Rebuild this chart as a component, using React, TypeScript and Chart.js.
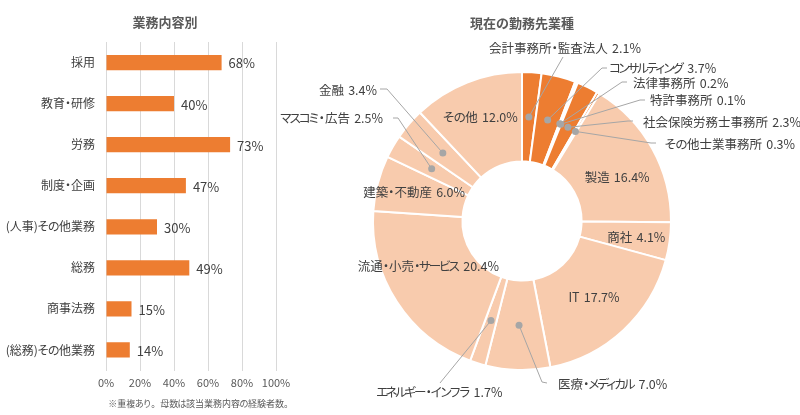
import React, { useEffect, useRef } from "react";
import { Chart, registerables } from "chart.js";

Chart.register(...registerables);

// ---------- Data: left bar chart ----------
const barTitle = "業務内容別";
const barNote = "※重複あり。母数は該当業務内容の経験者数。";
const barCategories = [
  "採用",
  "教育・研修",
  "労務",
  "制度・企画",
  "(人事)その他業務",
  "総務",
  "商事法務",
  "(総務)その他業務",
];
const barValues = [68, 40, 73, 47, 30, 49, 15, 14];
const xTickMin = 0;
const xTickMax = 100;
const xTickStep = 20;

// ---------- Data: right doughnut ----------
const pieTitle = "現在の勤務先業種";
const pieCategories = [
  "会計事務所・監査法人",
  "コンサルティング",
  "法律事務所",
  "特許事務所",
  "社会保険労務士事務所",
  "その他士業事務所",
  "製造",
  "商社",
  "IT",
  "医療・メディカル",
  "エネルギー・インフラ",
  "流通・小売・サービス",
  "建築・不動産",
  "マスコミ・広告",
  "金融",
  "その他",
];
const pieValues = [2.1, 3.7, 0.2, 0.1, 2.3, 0.3, 16.4, 4.1, 17.7, 7.0, 1.7, 20.4, 6.0, 2.5, 3.4, 12.0];
const pieGroup = ["士業", "士業", "士業", "士業", "士業", "士業", "他", "他", "他", "他", "他", "他", "他", "他", "他", "他"];

// ---------- Styles / layout ----------
const FONT = "'Noto Sans CJK JP', 'Noto Sans', sans-serif";
const ORANGE = "#ED7D31";
const LIGHT = "#F8CBAD";
const TEXT = "#404040";
const SUB = "#595959";
const LEADER = "#A6A6A6";

// label placement for the doughnut, relative to the doughnut centre (pixels)
type Place =
  | { kind: "in"; dx: number; dy: number }
  | { kind: "out"; pts: [number, number][]; tx: number; ty: number; align: CanvasTextAlign };

const piePlaces: Place[] = [
  { kind: "out", pts: [[41, -164]], tx: 43, ty: -173, align: "center" },
  { kind: "out", pts: [[80, -153], [85, -153]], tx: 88, ty: -153, align: "left" },
  { kind: "out", pts: [[100, -139], [105, -139]], tx: 111, ty: -138, align: "left" },
  { kind: "out", pts: [[118, -121], [123, -121]], tx: 128, ty: -121, align: "left" },
  { kind: "out", pts: [[106, -100], [111, -100]], tx: 121, ty: -99, align: "left" },
  { kind: "out", pts: [[129, -78], [134, -78]], tx: 143, ty: -77, align: "left" },
  { kind: "in", dx: 4, dy: 7 },
  { kind: "in", dx: 11, dy: 2 },
  { kind: "in", dx: 1, dy: 0 },
  { kind: "out", pts: [[20, 161], [25, 162]], tx: 36, ty: 163, align: "left" },
  { kind: "out", pts: [[-82, 162]], tx: -82, ty: 171, align: "center" },
  { kind: "in", dx: -6, dy: -11 },
  { kind: "in", dx: -7, dy: -2 },
  { kind: "out", pts: [[-124, -103], [-129, -103]], tx: -139, ty: -103, align: "right" },
  { kind: "out", pts: [[-135, -132], [-142, -132]], tx: -145, ty: -131, align: "right" },
  { kind: "in", dx: -3, dy: -7 },
];

// proportional-ish Japanese text drawing (mimics the narrow kana of the original font)
const SMALL_KANA = "ァィゥェォッャュョヮヵヶぁぃぅぇぉっゃゅょゎ";
function advanceFactor(ch: string): number {
  if (ch === " ") return 1.5;
  if (ch === "・") return 0.5;
  if (SMALL_KANA.includes(ch)) return 0.6;
  if (ch === "ー") return 0.85;
  const c = ch.charCodeAt(0);
  if (c >= 0x30a0 && c <= 0x30ff) return 0.75;
  if (c >= 0x3040 && c <= 0x309f) return 0.88;
  return 1;
}
function drawJP(ctx: CanvasRenderingContext2D, text: string, x: number, y: number, align: CanvasTextAlign) {
  const chars = Array.from(text);
  const widths = chars.map((ch) => ctx.measureText(ch).width * advanceFactor(ch));
  const total = widths.reduce((a, b) => a + b, 0);
  let sx = align === "center" ? x - total / 2 : align === "right" ? x - total : x;
  ctx.textAlign = "center";
  chars.forEach((ch, i) => {
    ctx.fillText(ch, sx + widths[i] / 2, y);
    sx += widths[i];
  });
}

function BarChart() {
  const ref = useRef<HTMLCanvasElement | null>(null);
  useEffect(() => {
    if (!ref.current) return;
    const labelPlugin = {
      id: "barLabels",
      afterDatasetsDraw(chart: any) {
        const ctx = chart.ctx;
        const meta = chart.getDatasetMeta(0);
        const yScale = chart.scales.y;
        ctx.save();
        ctx.textBaseline = "middle";
        meta.data.forEach((bar: any, i: number) => {
          const p = bar.getProps(["x", "y"], true);
          ctx.font = `13px ${FONT}`;
          ctx.fillStyle = TEXT;
          ctx.textAlign = "left";
          ctx.fillText(`${barValues[i]}%`, p.x + 7, p.y + 1);
          ctx.font = `12px ${FONT}`;
          drawJP(ctx, barCategories[i], yScale.right - 11, p.y, "right");
        });
        // title
        ctx.font = `bold 13px ${FONT}`;
        ctx.fillStyle = SUB;
        ctx.textAlign = "center";
        ctx.fillText(barTitle, 165, 22);
        // note
        ctx.font = `9px ${FONT}`;
        ctx.fillStyle = SUB;
        drawJP(ctx, barNote, 293, 404, "right");
        ctx.restore();
      },
    };
    const chart = new Chart(ref.current, {
      type: "bar",
      data: {
        labels: barCategories,
        datasets: [
          {
            data: barValues,
            backgroundColor: ORANGE,
            barPercentage: 0.37,
            categoryPercentage: 1,
          },
        ],
      },
      options: {
        indexAxis: "y",
        responsive: false,
        animation: false,
        layout: { padding: { top: 42, right: 24, left: 0, bottom: 0 } },
        plugins: { legend: { display: false }, tooltip: { enabled: false }, title: { display: false } },
        scales: {
          x: {
            min: xTickMin,
            max: xTickMax,
            ticks: {
              stepSize: xTickStep,
              callback: (v: any) => `${v}%`,
              font: { family: FONT, size: 11 },
              color: SUB,
              padding: 6,
              maxRotation: 0,
              minRotation: 0,
              autoSkip: false,
            },
            grid: { color: "#D9D9D9", drawTicks: false },
            border: { display: false },
            afterFit: (s: any) => {
              s.height = 44.5;
            },
          },
          y: {
            ticks: { display: false },
            grid: { display: false, drawTicks: false },
            border: { display: false },
            afterFit: (s: any) => {
              s.width = 106;
            },
          },
        },
      },
      plugins: [labelPlugin],
    } as any);
    return () => chart.destroy();
  }, []);
  return <canvas ref={ref} width={300} height={415} style={{ position: "absolute", left: 0, top: 0, width: 300, height: 415 }} />;
}

function DoughnutChart() {
  const ref = useRef<HTMLCanvasElement | null>(null);
  useEffect(() => {
    if (!ref.current) return;
    const labelPlugin = {
      id: "pieLabels",
      afterDatasetsDraw(chart: any) {
        const ctx = chart.ctx;
        const meta = chart.getDatasetMeta(0);
        ctx.save();
        let cx = 0;
        meta.data.forEach((arc: any, i: number) => {
          const p = arc.getProps(["x", "y", "startAngle", "endAngle", "innerRadius", "outerRadius"], true);
          cx = p.x;
          const mid = (p.startAngle + p.endAngle) / 2;
          const r = (p.innerRadius + p.outerRadius) / 2;
          const ax = p.x + Math.cos(mid) * r;
          const ay = p.y + Math.sin(mid) * r;
          const text = `${pieCategories[i]} ${pieValues[i].toFixed(1)}%`;
          const place = piePlaces[i];
          ctx.font = `12.5px ${FONT}`;
          ctx.fillStyle = TEXT;
          ctx.textBaseline = "middle";
          if (place.kind === "in") {
            drawJP(ctx, text, ax + place.dx, ay + place.dy, "center");
          } else {
            ctx.strokeStyle = LEADER;
            ctx.lineWidth = 1;
            ctx.beginPath();
            ctx.moveTo(ax, ay);
            place.pts.forEach(([dx, dy]) => ctx.lineTo(p.x + dx, p.y + dy));
            ctx.stroke();
            ctx.fillStyle = LEADER;
            ctx.beginPath();
            ctx.arc(ax, ay, 3.5, 0, Math.PI * 2);
            ctx.fill();
            ctx.fillStyle = TEXT;
            drawJP(ctx, text, p.x + place.tx, p.y + place.ty, place.align);
          }
        });
        ctx.font = `bold 13px ${FONT}`;
        ctx.fillStyle = SUB;
        ctx.textAlign = "center";
        ctx.textBaseline = "middle";
        ctx.fillText(pieTitle, cx, 23);
        ctx.restore();
      },
    };
    const chart = new Chart(ref.current, {
      type: "doughnut",
      data: {
        labels: pieCategories,
        datasets: [
          {
            data: pieValues,
            backgroundColor: pieGroup.map((g) => (g === "士業" ? ORANGE : LIGHT)),
            borderColor: "#FFFFFF",
            borderWidth: 2,
          },
        ],
      },
      options: {
        responsive: false,
        animation: false,
        cutout: "40%",
        layout: { padding: { left: 122, right: 128, top: 71, bottom: 44 } },
        plugins: { legend: { display: false }, tooltip: { enabled: false } },
      },
      plugins: [labelPlugin],
    } as any);
    return () => chart.destroy();
  }, []);
  return <canvas ref={ref} width={550} height={415} style={{ position: "absolute", left: 250, top: 0, width: 550, height: 415 }} />;
}

export default function App() {
  return (
    <div style={{ position: "absolute", left: 0, top: 0, width: 800, height: 415, background: "#FFFFFF", overflow: "hidden" }}>
      <BarChart />
      <DoughnutChart />
    </div>
  );
}
